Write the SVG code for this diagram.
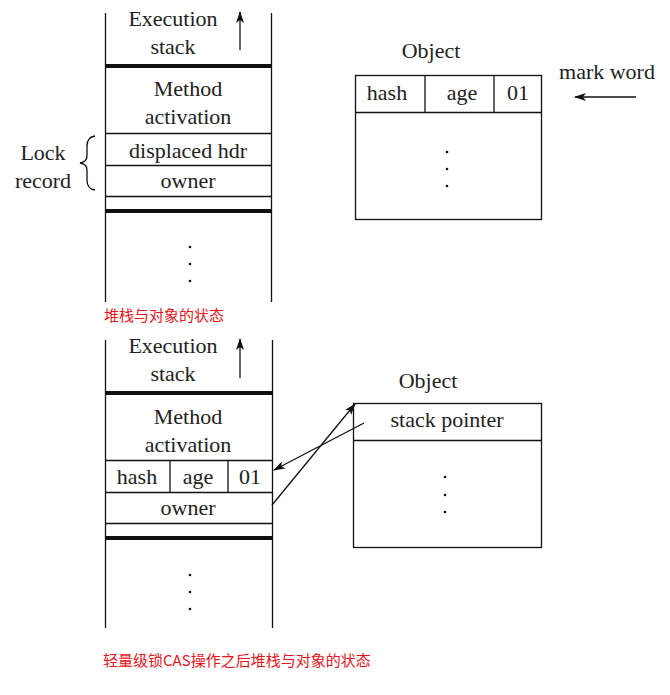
<svg xmlns="http://www.w3.org/2000/svg" width="670" height="695" viewBox="0 0 670 695">
<defs>
<style>
.t{font-family:'Liberation Serif',serif;font-size:22px;fill:#222;text-anchor:middle}
.cap{font-family:'Noto Sans CJK SC','Noto Sans',sans-serif;font-size:15px;fill:#e8141c}
.ln{stroke:#111;stroke-width:1.3;fill:none}
.thick{stroke:#111;stroke-width:4;fill:none}
.dot{fill:#111}
</style>
<marker id="ah" viewBox="0 0 12 8" refX="11" refY="4" markerWidth="12" markerHeight="8" markerUnits="userSpaceOnUse" orient="auto">
<path d="M0,0 L12,4 L0,8 L3,4 Z" fill="#111"/>
</marker>
</defs>
<rect width="670" height="695" fill="#fff"/>

<g id="stack1">
<line class="ln" x1="105.5" y1="13" x2="105.5" y2="302"/>
<line class="ln" x1="271.5" y1="13" x2="271.5" y2="302"/>
<text class="t" x="173" y="26">Execution</text>
<text class="t" x="173" y="54">stack</text>
<line class="ln" x1="240" y1="50" x2="240" y2="12" marker-end="url(#ah)"/>
<line class="thick" x1="105" y1="66" x2="272" y2="66"/>
<text class="t" x="188" y="96">Method</text>
<text class="t" x="188" y="124">activation</text>
<line class="ln" x1="105" y1="133.5" x2="272" y2="133.5"/>
<text class="t" x="188" y="158">displaced hdr</text>
<line class="ln" x1="105" y1="165.5" x2="272" y2="165.5"/>
<text class="t" x="188" y="188">owner</text>
<line class="ln" x1="105" y1="196.5" x2="272" y2="196.5"/>
<line class="thick" x1="105" y1="211" x2="272" y2="211"/>
<circle class="dot" cx="190" cy="247" r="1.3"/>
<circle class="dot" cx="190" cy="264" r="1.3"/>
<circle class="dot" cx="190" cy="281" r="1.3"/>
</g>

<g id="lockrecord">
<text class="t" x="43" y="160">Lock</text>
<text class="t" x="43" y="188">record</text>
<path class="ln" d="M95,136 Q87,137 87,146 L87,156 Q87,162 80,163 Q87,164 87,170 L87,180 Q87,189 95,190"/>
</g>

<g id="object1">
<text class="t" x="431" y="58">Object</text>
<rect class="ln" x="355.5" y="75.5" width="186" height="144"/>
<line class="ln" x1="355" y1="112.5" x2="542" y2="112.5"/>
<line class="ln" x1="425" y1="75" x2="425" y2="112"/>
<line class="ln" x1="494" y1="75" x2="494" y2="112"/>
<text class="t" x="387" y="100">hash</text>
<text class="t" x="462" y="100">age</text>
<text class="t" x="518" y="100">01</text>
<circle class="dot" cx="447" cy="152" r="1.3"/>
<circle class="dot" cx="447" cy="169" r="1.3"/>
<circle class="dot" cx="447" cy="186" r="1.3"/>
</g>

<g id="markword">
<text class="t" x="607" y="79">mark word</text>
</g>

<text class="cap" x="104" y="321">堆栈与对象的状态</text>

<g id="stack2">
<line class="ln" x1="105.5" y1="340" x2="105.5" y2="628"/>
<line class="ln" x1="272.5" y1="340" x2="272.5" y2="628"/>
<text class="t" x="173" y="353">Execution</text>
<text class="t" x="173" y="381">stack</text>
<line class="ln" x1="240" y1="378" x2="240" y2="339" marker-end="url(#ah)"/>
<line class="thick" x1="105" y1="393" x2="273" y2="393"/>
<text class="t" x="188" y="424">Method</text>
<text class="t" x="188" y="452">activation</text>
<line class="ln" x1="105" y1="460.5" x2="273" y2="460.5"/>
<line class="ln" x1="170" y1="460" x2="170" y2="492"/>
<line class="ln" x1="228" y1="460" x2="228" y2="492"/>
<text class="t" x="137" y="484">hash</text>
<text class="t" x="198" y="484">age</text>
<text class="t" x="250" y="484">01</text>
<line class="ln" x1="105" y1="492.5" x2="273" y2="492.5"/>
<text class="t" x="188" y="515">owner</text>
<line class="ln" x1="105" y1="523.5" x2="273" y2="523.5"/>
<line class="thick" x1="105" y1="538" x2="273" y2="538"/>
<circle class="dot" cx="190" cy="575" r="1.3"/>
<circle class="dot" cx="190" cy="592" r="1.3"/>
<circle class="dot" cx="190" cy="609" r="1.3"/>
</g>

<g id="object2">
<text class="t" x="428" y="388">Object</text>
<rect class="ln" x="353.5" y="403.5" width="188" height="144" stroke="#555"/>
<line class="ln" x1="353" y1="440.5" x2="542" y2="440.5"/>
<text class="t" x="447" y="427">stack pointer</text>
<circle class="dot" cx="445" cy="477" r="1.3"/>
<circle class="dot" cx="445" cy="495" r="1.3"/>
<circle class="dot" cx="445" cy="512" r="1.3"/>
</g>

<g id="connectors">
<line class="ln" x1="636" y1="97" x2="575" y2="97" marker-end="url(#ah)"/>
<line class="ln" x1="364" y1="423" x2="274" y2="470" marker-end="url(#ah)"/>
<line class="ln" x1="272" y1="505" x2="355" y2="404" marker-end="url(#ah)"/>
</g>

<text class="cap" x="103" y="666">轻量级锁CAS操作之后堆栈与对象的状态</text>
</svg>
